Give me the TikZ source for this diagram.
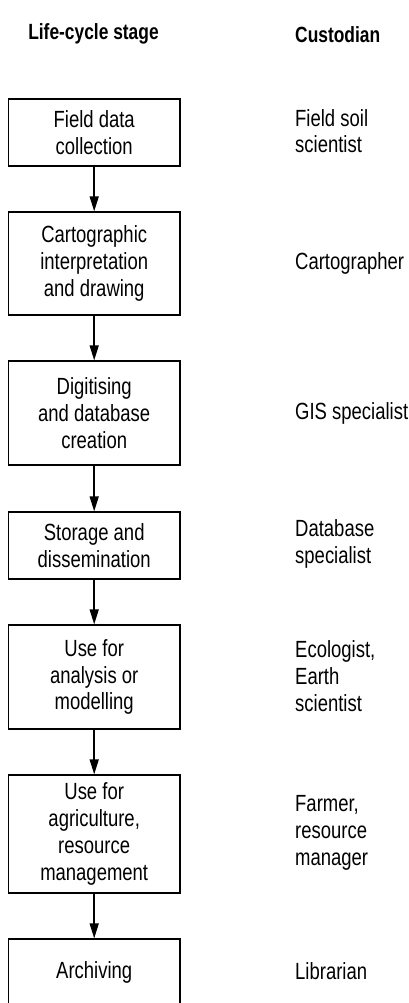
\documentclass[tikz,border=0pt]{standalone}
\usepackage{fontspec}
\setmainfont{Liberation Sans}[FakeStretch=0.79]
\usetikzlibrary{arrows.meta}
\begin{document}
\begin{tikzpicture}[x=1pt,y=-1pt,
  stagebox/.style={draw, line width=1.3pt, minimum width=171.5pt, align=center, inner sep=0pt,
    font=\fontsize{23.4}{26.7}\selectfont},
  custo/.style={anchor=west, align=left, inner sep=0pt, font=\fontsize{23.4}{26.7}\selectfont},
  head/.style={inner sep=0pt, anchor=base, font=\bfseries\fontsize{22}{26}\selectfont},
  flow/.style={line width=1.5pt, -{Triangle[length=15pt,width=9pt]}}]
\useasboundingbox (0,0) rectangle (409,1003);
\clip (0,0) rectangle (409,1003);
\node[head] (h1) at (93.5,40) {Life-cycle stage};
\node[head, anchor=base west] (h2) at (295,43) {Custodian};

\node[stagebox, minimum height=67pt] (b1) at (94.2,132.5) {Field data\\collection};
\node[stagebox, minimum height=103pt] (b2) at (94.2,263.5) {Cartographic\\interpretation\\and drawing};
\node[stagebox, minimum height=104pt] (b3) at (94.2,413) {Digitising\\and database\\creation};
\node[stagebox, minimum height=67pt] (b4) at (94.2,545.5) {Storage and\\dissemination};
\node[stagebox, minimum height=104pt] (b5) at (94.2,677) {Use for\\analysis or\\modelling};
\node[stagebox, minimum height=118pt] (b6) at (94.2,834) {Use for\\agriculture,\\resource\\management};
\node[stagebox, minimum height=67pt] (b7) at (94.2,972.5) {Archiving};

\node[custo] (c1) at (295,131) {Field soil\\scientist};
\node[custo] (c2) at (295,263.5) {Cartographer};
\node[custo] (c3) at (295,413) {GIS specialist};
\node[custo] (c4) at (295,544) {Database\\specialist};
\node[custo] (c5) at (295,676) {Ecologist,\\Earth\\scientist};
\node[custo] (c6) at (295,833) {Farmer,\\resource\\manager};
\node[custo] (c7) at (295,971) {Librarian};

\draw[flow] (b1.south) -- (b2.north);
\draw[flow] (b2.south) -- (b3.north);
\draw[flow] (b3.south) -- (b4.north);
\draw[flow] (b4.south) -- (b5.north);
\draw[flow] (b5.south) -- (b6.north);
\draw[flow] (b6.south) -- (b7.north);
\end{tikzpicture}
\end{document}
